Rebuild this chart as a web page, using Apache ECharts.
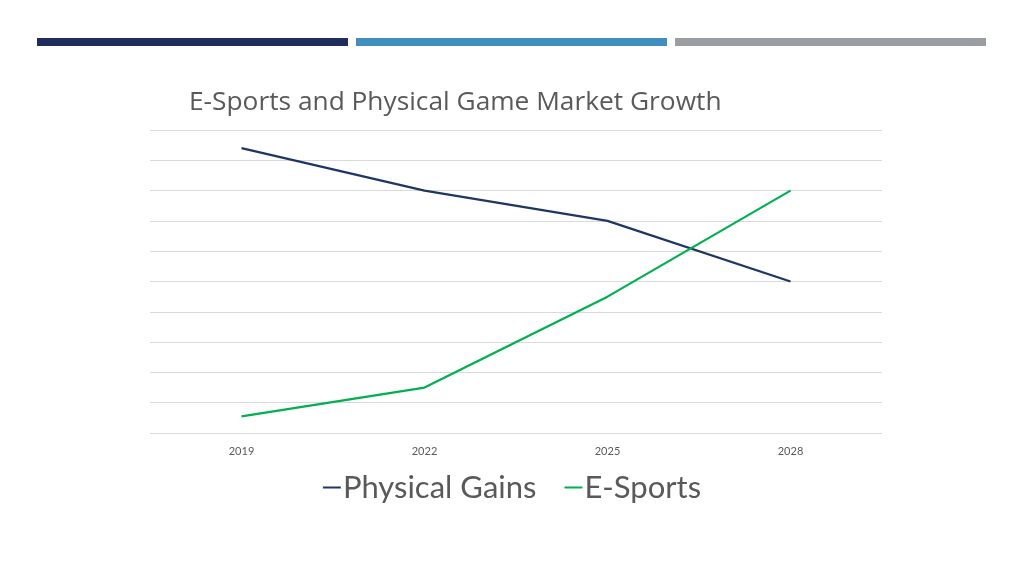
<!DOCTYPE html>
<html>
<head>
<meta charset="utf-8">
<script src="https://cdn.jsdelivr.net/npm/echarts@6/dist/echarts.min.js"></script>
<style>html,body{margin:0;padding:0;background:#fff;}#c{width:1024px;height:576px;}</style>
</head>
<body>
<div id="c"></div>
<script>
const categories = ['2019', '2022', '2025', '2028'];
const physicalGains = [9.4, 8.0, 7.0, 5.0];
const eSports = [0.55, 1.5, 4.5, 8.0];
const seriesNames = ['Physical Gains', 'E-Sports'];

const chart = echarts.init(document.getElementById('c'));
const font = 'Lato, "Open Sans", sans-serif';
chart.setOption({
  backgroundColor: '#ffffff',
  animation: false,
  title: {
    text: 'E-Sports and Physical Game Market Growth',
    left: 184, top: 85,
    textStyle: { fontFamily: '"Open Sans", sans-serif', fontSize: 26.3, fontWeight: 'normal', color: '#595959' }
  },
  graphic: [
    { type: 'rect', shape: { x: 37, y: 38, width: 311, height: 8 }, style: { fill: '#1F2D5C' } },
    { type: 'rect', shape: { x: 356, y: 38, width: 311, height: 8 }, style: { fill: '#418FBF' } },
    { type: 'rect', shape: { x: 675, y: 38, width: 311, height: 8 }, style: { fill: '#9A9DA1' } }
  ],
  legend: {
    bottom: 68, left: 'center',
    itemWidth: 18, itemHeight: 2, itemGap: 28,
    icon: 'rect',
    textStyle: { fontFamily: font, fontSize: 31, color: '#595959', padding: [0, 0, 0, -3] },
    data: seriesNames
  },
  grid: { left: 150, right: 142, top: 130, bottom: 143 },
  xAxis: {
    type: 'category', data: categories, boundaryGap: true,
    axisLine: { show: false }, axisTick: { show: false },
    axisLabel: { fontFamily: font, fontSize: 11, color: '#595959', margin: 13 }
  },
  yAxis: {
    type: 'value', min: 0, max: 10, interval: 1,
    axisLabel: { show: false }, axisLine: { show: false }, axisTick: { show: false },
    splitLine: { lineStyle: { color: '#D9D9D9', width: 1 } }
  },
  series: [
    { name: seriesNames[0], type: 'line', data: physicalGains, symbol: 'none', lineStyle: { width: 2.2, color: '#1F3564' }, itemStyle: { color: '#1F3564' } },
    { name: seriesNames[1], type: 'line', data: eSports, symbol: 'none', lineStyle: { width: 2.2, color: '#00B050' }, itemStyle: { color: '#00B050' } }
  ]
});
</script>
</body>
</html>
